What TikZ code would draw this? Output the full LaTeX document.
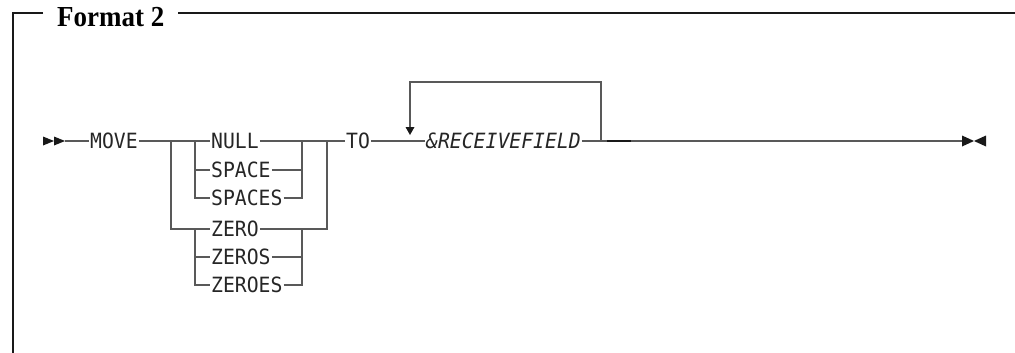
\documentclass[tikz,border=0pt]{standalone}
\usepackage{fontspec}
\setmonofont[FakeStretch=0.94]{DejaVu Sans Mono}
\newfontfamily\headfont[FakeStretch=0.93]{Liberation Serif}
\usepackage{xcolor}
\tikzset{
  kw/.style={font=\ttfamily\fontsize{21}{24}\selectfont, text=black!85, inner sep=1pt, anchor=west},
  rail/.style={draw=black!65, line width=1.2pt},
  frame/.style={draw=black!90, line width=1.2pt},
  tip/.style={fill=black!90, draw=none},
}
\begin{document}
\begin{tikzpicture}[x=1pt,y=-1pt]
                \useasboundingbox (0,0) rectangle (1015,353);

                \coordinate (tl) at (13,13);
                \coordinate (bl) at (13,353);
                \coordinate (tr) at (1015,13);
                \node[font=\headfont\bfseries\fontsize{29}{32}\selectfont, anchor=base west, inner xsep=14pt, inner ysep=0pt] (title) at (43,27) {Format 2};
                \draw[frame] (title.west |- tl) -- (tl) -- (bl);
                \draw[frame] (title.east |- tr) -- (tr);

                \node[kw] (move) at (89,141) {MOVE};
                \node[kw] (null) at (210,141) {NULL};
                \node[kw] (space) at (210,170) {SPACE};
                \node[kw] (spaces) at (210,198) {SPACES};
                \node[kw] (zero) at (210,229) {ZERO};
                \node[kw] (zeros) at (210,257) {ZEROS};
                \node[kw] (zeroes) at (210,285) {ZEROES};
                \node[kw] (to) at (345,141) {TO};
                \node[kw, font=\ttfamily\itshape\fontsize{21}{24}\selectfont] (recv) at (425,141) {\&RECEIVEFIELD};

                \coordinate (start) at (65,141);
                \coordinate (stop) at (962,141);
                \coordinate (a1) at (171,141);
                \coordinate (a2) at (195,141);
                \coordinate (b2) at (302,141);
                \coordinate (b1) at (327,141);
                \coordinate (z2) at (195,229);
                \coordinate (zb2) at (302,229);
                \coordinate (loopR) at (601,141);
                \coordinate (loopL) at (410,127);
                \coordinate (dashA) at (607,141);
                \coordinate (dashB) at (631,141);

                \draw[rail] (start) -- (move.west);
                \draw[rail] (move.east) -- (null.west);
                \draw[rail] (null.east) -- (to.west);
                \draw[rail] (to.east) -- (recv.west);
                \draw[rail] (recv.east) -- (stop);

                \draw[rail] (a1) |- (zero.west);
                \draw[rail] (zero.east) -| (b1);
                \draw[rail] (a2) |- (space.west);
                \draw[rail] (a2) |- (spaces.west);
                \draw[rail] (space.east) -| (b2);
                \draw[rail] (spaces.east) -| (b2);
                \draw[rail] (z2) |- (zeros.west);
                \draw[rail] (z2) |- (zeroes.west);
                \draw[rail] (zeros.east) -| (zb2);
                \draw[rail] (zeroes.east) -| (zb2);

                \draw[rail] (loopR) -- ++(0,-59) -| (loopL);
                \filldraw[tip] (405.5,127) -- (414.5,127) -- (410,135) -- cycle;
                \draw[black!90, line width=2.6pt] (dashA) -- (dashB);

                \filldraw[tip] (43,136.5) -- (54,141) -- (43,145.5) -- cycle;
                \filldraw[tip] (54,136.5) -- (65,141) -- (54,145.5) -- cycle;
                \filldraw[tip] (962,135.5) -- (974,141) -- (962,146.5) -- cycle;
                \filldraw[tip] (986,135.5) -- (974,141) -- (986,146.5) -- cycle;
            \end{tikzpicture}
\end{document}
